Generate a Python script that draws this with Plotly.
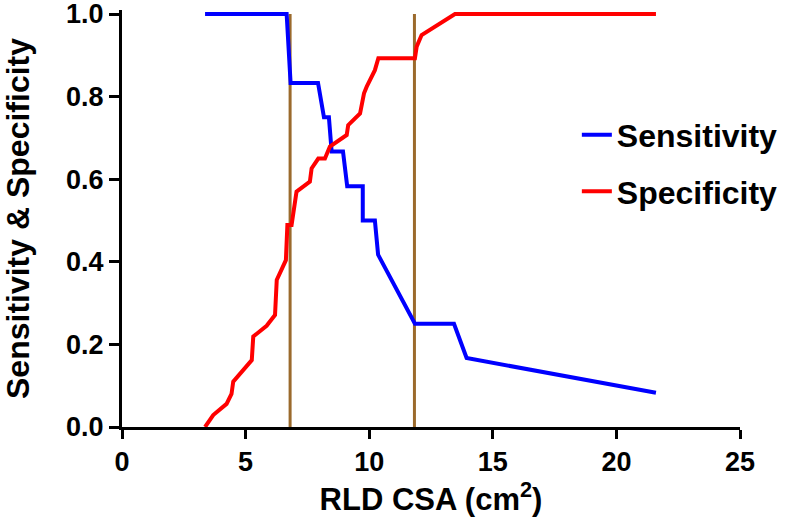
import plotly.graph_objects as go

# Data
sens_x = [3.36, 6.66, 6.82, 7.93, 8.17, 8.37, 8.48, 8.94, 9.11, 9.74, 9.74, 10.23, 10.36, 11.85, 13.43, 13.94, 21.6]
sens_y = [1.0, 1.0, 0.833, 0.833, 0.75, 0.75, 0.667, 0.667, 0.583, 0.583, 0.5, 0.5, 0.417, 0.25, 0.25, 0.167, 0.083]

spec_x = [3.36, 3.69, 4.23, 4.43, 4.5, 5.25, 5.31, 5.85, 6.19, 6.26, 6.63, 6.69, 6.86, 7.06, 7.6, 7.67,
          7.94, 8.21, 8.41, 9.09, 9.15, 9.63, 9.79, 9.9, 10.23, 10.37, 11.85, 11.92, 12.12, 12.86, 13.47, 21.6]
spec_y = [0.0, 0.029, 0.056, 0.08, 0.11, 0.162, 0.219, 0.245, 0.271, 0.356, 0.404, 0.489, 0.489, 0.57, 0.594, 0.626,
          0.65, 0.65, 0.679, 0.707, 0.731, 0.759, 0.808, 0.824, 0.864, 0.893, 0.893, 0.921, 0.949, 0.977, 1.0, 1.0]

cutoffs = [6.8, 11.83]
cutoff_span = [0.0, 1.0]

x_ticks = [0, 5, 10, 15, 20, 25]
y_ticks = [0.0, 0.2, 0.4, 0.6, 0.8, 1.0]

FONT = "Liberation Sans, Arial, sans-serif"
BROWN = "#9b6a2c"

fig = go.Figure()

for c in cutoffs:
    fig.add_trace(go.Scatter(x=[c, c], y=cutoff_span, mode="lines",
                             line=dict(color=BROWN, width=3), showlegend=False,
                             hoverinfo="skip"))

fig.add_trace(go.Scatter(x=sens_x, y=sens_y, mode="lines", name="Sensitivity",
                         line=dict(color="#0000ff", width=4), legendgroup="a"))
fig.add_trace(go.Scatter(x=spec_x, y=spec_y, mode="lines", name="Specificity",
                         line=dict(color="#ff0000", width=4), legendgroup="b"))

fig.update_layout(
    width=786, height=530,
    margin=dict(l=122, r=46, t=10, b=103, autoexpand=False),
    paper_bgcolor="white", plot_bgcolor="white",
    font=dict(family=FONT, color="black", size=26, weight="bold"),
    legend=dict(x=0.736, xanchor="left", y=0.632, yanchor="middle",
                font=dict(size=32, family=FONT, weight="bold"),
                tracegroupgap=12, bgcolor="rgba(0,0,0,0)", borderwidth=0),
    xaxis=dict(range=[0, 25], tickvals=x_ticks, showline=True, linecolor="black",
               linewidth=3, ticks="outside", ticklen=9, tickwidth=3, tickcolor="black",
               showgrid=False, zeroline=False, automargin=False,
               tickfont=dict(size=27, family=FONT, weight="bold"),
               title=dict(text="RLD CSA (cm<sup>2</sup>)", standoff=12,
                          font=dict(size=31, family=FONT, weight="bold"))),
    yaxis=dict(range=[0, 1.0097], tickvals=y_ticks, tickformat=".1f", showline=True,
               linecolor="black", linewidth=3, ticks="outside", ticklen=10, tickwidth=3,
               tickcolor="black", showgrid=False, zeroline=False, automargin=False,
               ticklabeloverflow="allow",
               tickfont=dict(size=27, family=FONT, weight="bold"),
               title=dict(text="Sensitivity & Specificity", standoff=60,
                          font=dict(size=32, family=FONT, weight="bold"))),
)

fig.write_html("out.html", config={"displayModeBar": False},
               post_script="document.body.style.margin='0';")
